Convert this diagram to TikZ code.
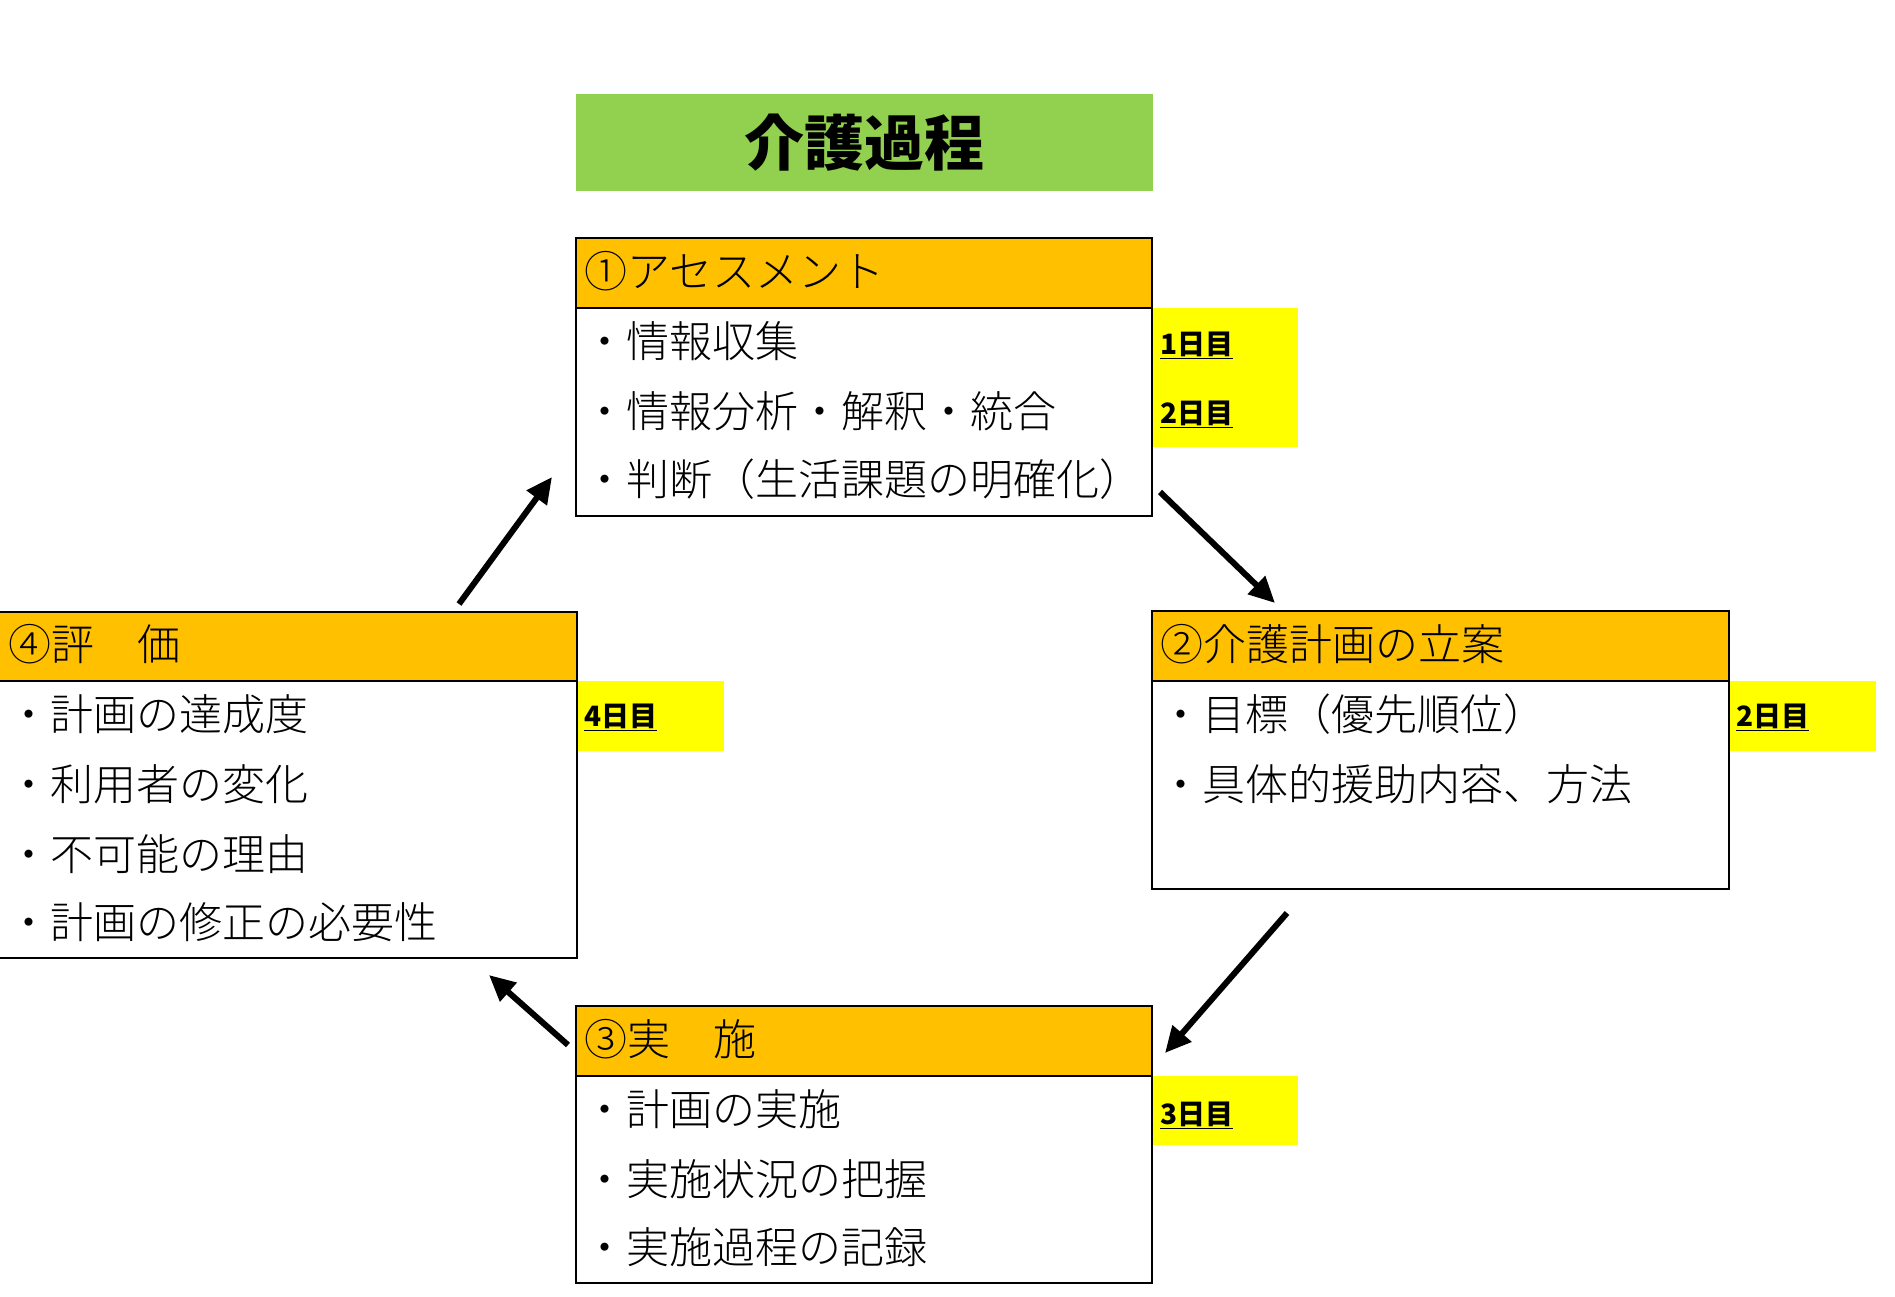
\documentclass[tikz,border=0pt]{standalone}
\usepackage{fontspec}
\setmainfont{Noto Sans CJK JP}
\newfontfamily\jplight{Noto Sans CJK JP Light}
\usetikzlibrary{arrows.meta}
\definecolor{hdr}{HTML}{FFC000}
\definecolor{ttl}{HTML}{92D050}
\definecolor{day}{HTML}{FFFF00}
\tikzset{
  hdrbox/.style={draw=black, line width=2pt, fill=hdr, anchor=north west, inner sep=0pt, outer sep=0pt},
  bodybox/.style={draw=black, line width=2pt, fill=white, anchor=north west, inner sep=0pt, outer sep=0pt},
  thinhdr/.style={hdrbox, line width=1.5pt},
  thinbody/.style={bodybox, line width=1.2pt},
  daybox/.style={fill=day, anchor=north west, inner sep=0pt, outer sep=0pt},
  ttlbox/.style={fill=ttl, anchor=north west, inner sep=0pt, outer sep=0pt},
  txt/.style={anchor=base west, inner sep=0pt, font=\jplight\fontsize{43}{50}\selectfont},
  daytxt/.style={anchor=base west, inner sep=0pt, font=\fontsize{28}{32}\selectfont\bfseries},
  flow/.style={line width=6pt, -{Triangle[length=26pt,width=24pt]}}
}
\begin{document}
\begin{tikzpicture}[x=1pt,y=-1pt]
\useasboundingbox (0,0) rectangle (1895,1296);
% title
\node[ttlbox, minimum width=577pt, minimum height=97pt] (title) at (576,94) {};
\node[font=\fontsize{60}{66}\selectfont\bfseries, inner sep=0pt] (titletxt) at (title.center) {介護過程};
% box 1
\node[hdrbox, minimum width=576pt, minimum height=70pt] (h1) at (576,238) {};
\node[bodybox, minimum width=576pt, minimum height=208pt] (b1) at (576,308) {};
\node[txt] (h1t) at (584,287) {①アセスメント};
\node[txt] (b1a) at (583,357) {・情報収集};
\node[txt] (b1b) at (583,427) {・情報分析・解釈・統合};
\node[txt] (b1c) at (583,495) {・判断（生活課題の明確化）};
\node[daybox, minimum width=145pt, minimum height=139pt] (d1) at (1153,308) {};
\node[daytxt] (d1a) at (1160,354) {\underline{1日目}};
\node[daytxt] (d1b) at (1160,423) {\underline{2日目}};
% box 2
\node[hdrbox, minimum width=577pt, minimum height=70pt] (h2) at (1152,611) {};
\node[bodybox, minimum width=577pt, minimum height=208pt] (b2) at (1152,681) {};
\node[txt] (h2t) at (1160,660) {②介護計画の立案};
\node[txt] (b2a) at (1159,730) {・目標（優先順位）};
\node[txt] (b2b) at (1159,800) {・具体的援助内容、方法};
\node[daybox, minimum width=146pt, minimum height=70pt] (d2) at (1730,681) {};
\node[daytxt] (d2a) at (1736,726) {\underline{2日目}};
% box 3
\node[hdrbox, minimum width=576pt, minimum height=70pt] (h3) at (576,1006) {};
\node[bodybox, minimum width=576pt, minimum height=207pt] (b3) at (576,1076) {};
\node[txt] (h3t) at (584,1055) {③実　施};
\node[txt] (b3a) at (583,1125) {・計画の実施};
\node[txt] (b3b) at (583,1195) {・実施状況の把握};
\node[txt] (b3c) at (583,1263) {・実施過程の記録};
\node[daybox, minimum width=145pt, minimum height=69pt] (d3) at (1153,1076) {};
\node[daytxt] (d3a) at (1160,1124) {\underline{3日目}};
% box 4
\node[thinhdr, minimum width=580pt, minimum height=69pt] (h4) at (-3,612) {};
\node[thinbody, minimum width=580pt, minimum height=277pt] (b4) at (-3,681) {};
\node[txt] (h4t) at (8,660) {④評　価};
\node[txt] (b4a) at (7,730) {・計画の達成度};
\node[txt] (b4b) at (7,800) {・利用者の変化};
\node[txt] (b4c) at (7,870) {・不可能の理由};
\node[txt] (b4d) at (7,938) {・計画の修正の必要性};
\node[daybox, minimum width=146pt, minimum height=70pt] (d4) at (578,681) {};
\node[daytxt] (d4a) at (584,726) {\underline{4日目}};
% arrows
\coordinate (a1s) at (1160,492); \coordinate (a1e) at (1275,603);
\coordinate (a2s) at (1287,913); \coordinate (a2e) at (1165,1053);
\coordinate (a3s) at (568,1045); \coordinate (a3e) at (489,975);
\coordinate (a4s) at (459,604);  \coordinate (a4e) at (552,477);
\draw[flow] (a1s) -- (a1e);
\draw[flow] (a2s) -- (a2e);
\draw[flow] (a3s) -- (a3e);
\draw[flow] (a4s) -- (a4e);
\end{tikzpicture}
\end{document}
